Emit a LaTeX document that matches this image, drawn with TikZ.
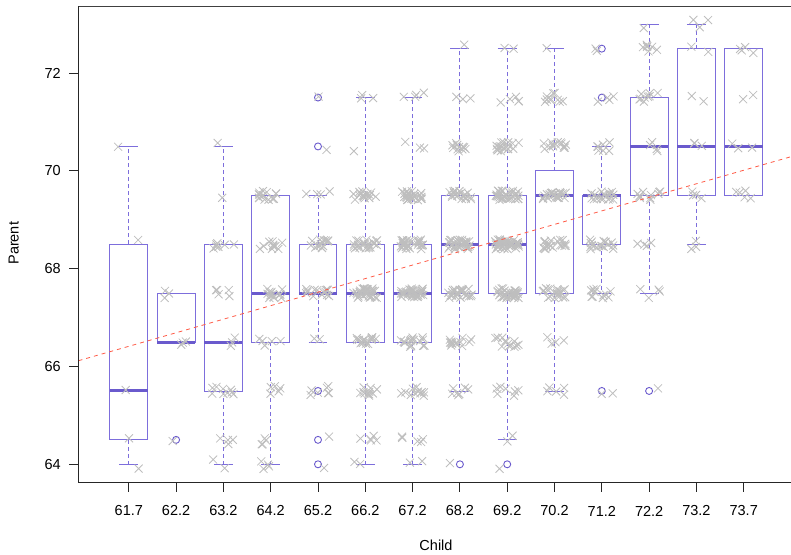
\documentclass[tikz,border=0pt]{standalone}
\usepackage{fontspec}
\setmainfont{Liberation Sans}
\definecolor{boxcol}{RGB}{106,90,205}
\definecolor{boxlt}{RGB}{125,110,220}
\definecolor{jitcol}{RGB}{190,190,190}
\definecolor{regcol}{RGB}{255,90,70}
\tikzset{
 boxst/.style={draw=boxlt, line width=0.9pt},
 medst/.style={draw=boxcol, line width=3pt},
 whiskst/.style={draw=boxlt, line width=0.9pt, dash pattern=on 4pt off 3pt},
 capst/.style={draw=boxlt, line width=0.9pt},
 outst/.style={draw=boxcol, line width=0.9pt},
 jitst/.style={draw=jitcol, line width=0.8pt},
 axst/.style={draw=black!85, line width=0.9pt},
 topst/.style={draw=black!75, line width=1.3pt},
 regst/.style={draw=regcol, line width=0.8pt, dash pattern=on 4pt off 4pt},
 lab/.style={font=\fontsize{14.5}{17}\selectfont, inner sep=0pt},
}
\begin{document}
\begin{tikzpicture}[x=1pt,y=1pt]
\useasboundingbox (0,0) rectangle (791,554);
\begin{scope}[x=47.3pt, y=48.9pt, shift={(81.5pt,-3039.9pt)}]
% boxes
\foreach \i/\wl/\hl/\md/\hu/\wu in {
 1/64/64.5/65.5/68.5/70.5,
 2/66.5/66.5/66.5/67.5/67.5,
 3/64/65.5/66.5/68.5/70.5,
 4/64/66.5/67.5/69.5/69.5,
 5/66.5/67.5/67.5/68.5/69.5,
 6/64/66.5/67.5/68.5/71.5,
 7/64/66.5/67.5/68.5/71.5,
 8/65.5/67.5/68.5/69.5/72.5,
 9/64.5/67.5/68.5/69.5/72.5,
 10/65.5/67.5/69.5/70/72.5,
 11/67.5/68.5/69.5/69.5/70.5,
 12/67.5/69.5/70.5/71.5/73,
 13/68.5/69.5/70.5/72.5/73,
 14/69.5/69.5/70.5/72.5/72.5} {
  \draw[whiskst] (\i,\hl) -- (\i,\wl);
  \draw[whiskst] (\i,\hu) -- (\i,\wu);
  \draw[capst] (\i-0.2,\wl) -- (\i+0.2,\wl);
  \draw[capst] (\i-0.2,\wu) -- (\i+0.2,\wu);
  \draw[boxst] (\i-0.4,\hl) rectangle (\i+0.4,\hu);
  \draw[medst] (\i-0.4,\md) -- (\i+0.4,\md);
}
% outliers
\foreach \i/\v in {2/64.5, 5/64, 5/64.5, 5/65.5, 5/70.5, 5/71.5, 8/64, 9/64,
  11/65.5, 11/71.5, 11/72.5, 12/65.5} {
  \draw[outst] (\i,\v) circle[radius=3.5pt];
}
% jittered points
\pgfmathsetseed{4711}
\foreach \i/\v/\c in {
 1/64/1, 1/64.5/1, 1/65.5/1, 1/68.5/1, 1/70.5/1,
 2/64.5/1, 2/66.5/3, 2/67.5/3,
 3/64/2, 3/64.5/4, 3/65.5/9, 3/66.5/3, 3/67.5/5, 3/68.5/7, 3/69.5/1, 3/70.5/1,
 4/64/4, 4/64.5/4, 4/65.5/5, 4/66.5/5, 4/67.5/14, 4/68.5/11, 4/69.5/16,
 5/64/1, 5/64.5/1, 5/65.5/7, 5/66.5/2, 5/67.5/15, 5/68.5/16, 5/69.5/4, 5/70.5/1, 5/71.5/1,
 6/64/2, 6/64.5/5, 6/65.5/11, 6/66.5/17, 6/67.5/36, 6/68.5/25, 6/69.5/17, 6/70.5/1, 6/71.5/3,
 7/64/2, 7/64.5/5, 7/65.5/11, 7/66.5/17, 7/67.5/38, 7/68.5/31, 7/69.5/27, 7/70.5/3, 7/71.5/4,
 8/64/1, 8/65.5/7, 8/66.5/14, 8/67.5/28, 8/68.5/34, 8/69.5/20, 8/70.5/12, 8/71.5/3, 8/72.5/1,
 9/64/1, 9/64.5/2, 9/65.5/7, 9/66.5/13, 9/67.5/38, 9/68.5/48, 9/69.5/33, 9/70.5/18, 9/71.5/5, 9/72.5/2,
 10/65.5/5, 10/66.5/4, 10/67.5/19, 10/68.5/21, 10/69.5/25, 10/70.5/14, 10/71.5/10, 10/72.5/1,
 11/65.5/2, 11/67.5/11, 11/68.5/18, 11/69.5/20, 11/70.5/7, 11/71.5/4, 11/72.5/2,
 12/65.5/1, 12/67.5/4, 12/68.5/4, 12/69.5/11, 12/70.5/4, 12/71.5/9, 12/72.5/7, 12/73/1,
 13/68.5/3, 13/69.5/4, 13/70.5/3, 13/71.5/2, 13/72.5/2, 13/73/3,
 14/69.5/5, 14/70.5/3, 14/71.5/2, 14/72.5/4} {
  \foreach \k in {1,...,\c} {
    \pgfmathsetmacro\xx{\i+0.25*rand}
    \pgfmathsetmacro\yy{\v+0.1*rand}
    \draw[jitst] (\xx,\yy) ++(-4pt,-4pt) -- ++(8pt,8pt) ++(-8pt,0pt) -- ++(8pt,-8pt);
  }
}
\end{scope}
% regression line
\coordinate (r1) at (78.5,193.3);
\coordinate (r2) at (791,397.3);
\draw[regst] (r1) -- (r2);
% axes
\coordinate (tl) at (78.5,547.5);
\coordinate (bl) at (78.5,72);
\coordinate (br) at (791,72);
\coordinate (tr) at (791,547.5);
\draw[topst] (tr) -- (tl);
\draw[axst] (tl) -- (bl) -- (br);
% y ticks
\foreach \v in {64,66,68,70,72} {
  \pgfmathsetmacro\Y{89.7+48.9*(\v-64)}
  \draw[axst] (69.3,\Y) -- (78.5,\Y);
  \node[lab, anchor=east] (ylab\v) at (61,\Y) {\v};
}
% x ticks
\foreach \i/\t in {1/61.7,2/62.2,3/63.2,4/64.2,5/65.2,6/66.2,7/67.2,8/68.2,9/69.2,10/70.2,11/71.2,12/72.2,13/73.2,14/73.7} {
  \draw[axst] (81.5+47.3*\i,72) -- (81.5+47.3*\i,62);
  \node[lab] (xl\i) at (81.5+47.3*\i,43) {\t};
}
\node[lab] (xt) at (436,8.5) {Child};
\node[lab, rotate=90] (yt) at (13.7,310.7) {Parent};
\end{tikzpicture}
\end{document}
